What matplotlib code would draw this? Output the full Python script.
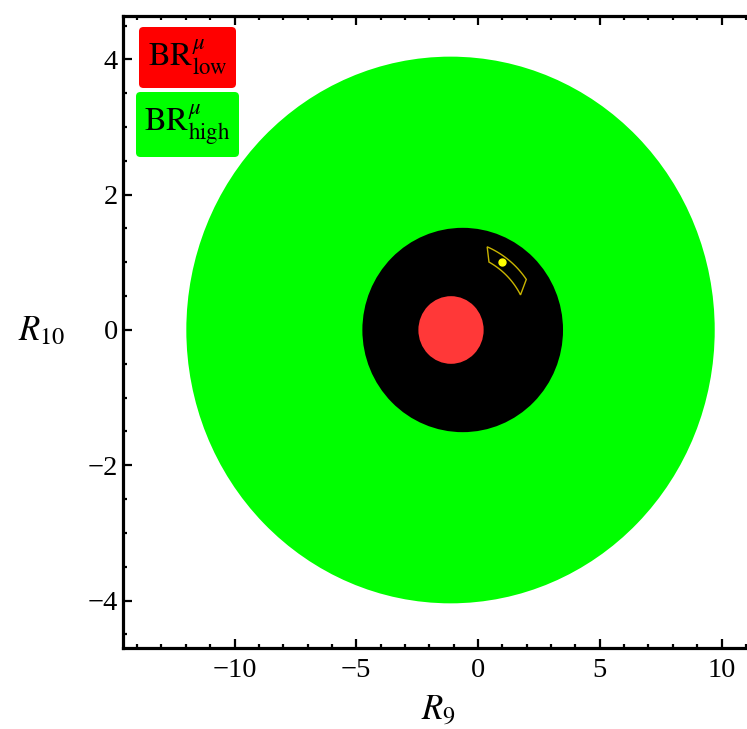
import numpy as np
import matplotlib
matplotlib.use("Agg")
import matplotlib.pyplot as plt
from matplotlib.patches import Ellipse, FancyBboxPatch, Polygon
from matplotlib.ticker import MultipleLocator

plt.rcParams['font.family'] = ['Liberation Serif', 'DejaVu Serif']
plt.rcParams['mathtext.fontset'] = 'stix'

# ---- data ----
# ellipses: (center_x, center_y, semi-axis x, semi-axis y)
green_ellipse = (-1.13, 0.0, 10.85, 4.04)   # BR^mu_high allowed
black_ellipse = (-0.63, 0.0, 4.12, 1.51)
red_ellipse = (-1.11, 0.0, 1.34, 0.50)      # BR^mu_low allowed
# yellow region: annular sector around center, radii in R10 units, x stretched by factor
sector_center = (-1.11, 0.0)
sector_xstretch = 2.78
sector_r_inner = 1.15
sector_r_outer = 1.34
sector_inner_angles = (26.8, 60.8)
sector_outer_angles = (33.9, 66.5)
best_point = (1.0, 1.0)

legend_labels = [r"$\mathrm{BR}^{\mu}_{\mathrm{low}}$", r"$\mathrm{BR}^{\mu}_{\mathrm{high}}$"]
legend_colors = ["#FF0000", "#00FF00"]

x_major = [-10, -5, 0, 5, 10]
y_major = [-4, -2, 0, 2, 4]

fig = plt.figure(figsize=(7.47, 7.29), dpi=100)
ax = fig.add_axes([0.165, 0.1111, 0.8433, 0.8669])
ax.set_xlim(-14.57, 11.3)
ax.set_ylim(-4.70, 4.64)

for (cx, cy, rx, ry), col in [(green_ellipse, "#00FF00"), (black_ellipse, "#000000"), (red_ellipse, "#FF3838")]:
    ax.add_patch(Ellipse((cx, cy), 2 * rx, 2 * ry, facecolor=col, edgecolor='none', zorder=1))

# sector outline
ti = np.radians(np.linspace(sector_inner_angles[0], sector_inner_angles[1], 60))
to = np.radians(np.linspace(sector_outer_angles[1], sector_outer_angles[0], 60))
xs = np.concatenate([sector_center[0] + sector_xstretch * sector_r_inner * np.cos(ti),
                     sector_center[0] + sector_xstretch * sector_r_outer * np.cos(to)])
ys = np.concatenate([sector_center[1] + sector_r_inner * np.sin(ti),
                     sector_center[1] + sector_r_outer * np.sin(to)])
ax.add_patch(Polygon(np.column_stack([xs, ys]), closed=True, facecolor='none',
                     edgecolor='#C8B400', linewidth=1.0, zorder=2))
ax.plot([best_point[0]], [best_point[1]], 'o', color='#FFFF00', markersize=5, zorder=3)

# ticks
ax.set_xticks(x_major)
ax.set_yticks(y_major)
ax.set_xticklabels([("\u2212" if v < 0 else "") + str(abs(v)) for v in x_major])
ax.set_yticklabels([("\u2212" if v < 0 else "") + str(abs(v)) for v in y_major])
ax.xaxis.set_minor_locator(MultipleLocator(1))
ax.yaxis.set_minor_locator(MultipleLocator(0.5))
ax.tick_params(which='both', direction='in', top=True, right=False, labelsize=20.5, width=1.6)
ax.tick_params(which='major', length=6.5)
ax.tick_params(which='minor', length=3)
ax.tick_params(axis='x', pad=7)
ax.tick_params(axis='y', pad=4)
for s in ax.spines.values():
    s.set_linewidth(2.3)

ax.set_xlabel(r"$R_9$", fontsize=25, labelpad=8)
ax.set_ylabel(r"$R_{10}$", fontsize=25, rotation=0, labelpad=0)
ax.yaxis.set_label_coords(-0.13, 0.5)
ax.yaxis.label.set_verticalalignment('center')

# legend boxes (figure pixel based -> figure fraction)
W, H = 747, 729
boxes = [(139, 27, 97, 61), (136, 92, 103, 65)]
for (bx, by, bw, bh), lab, col in zip(boxes, legend_labels, legend_colors):
    fx, fy = bx / W, 1 - (by + bh) / H
    p = FancyBboxPatch((fx, fy), bw / W, bh / H, boxstyle="round,pad=0,rounding_size=0.006",
                       transform=fig.transFigure, facecolor=col, edgecolor='none', zorder=5)
    fig.patches.append(p)
    fig.text(fx + bw / W / 2, fy + bh / H / 2, lab, fontsize=23.5, ha='center', va='center', zorder=6)

fig.savefig("out.png", dpi=100)
